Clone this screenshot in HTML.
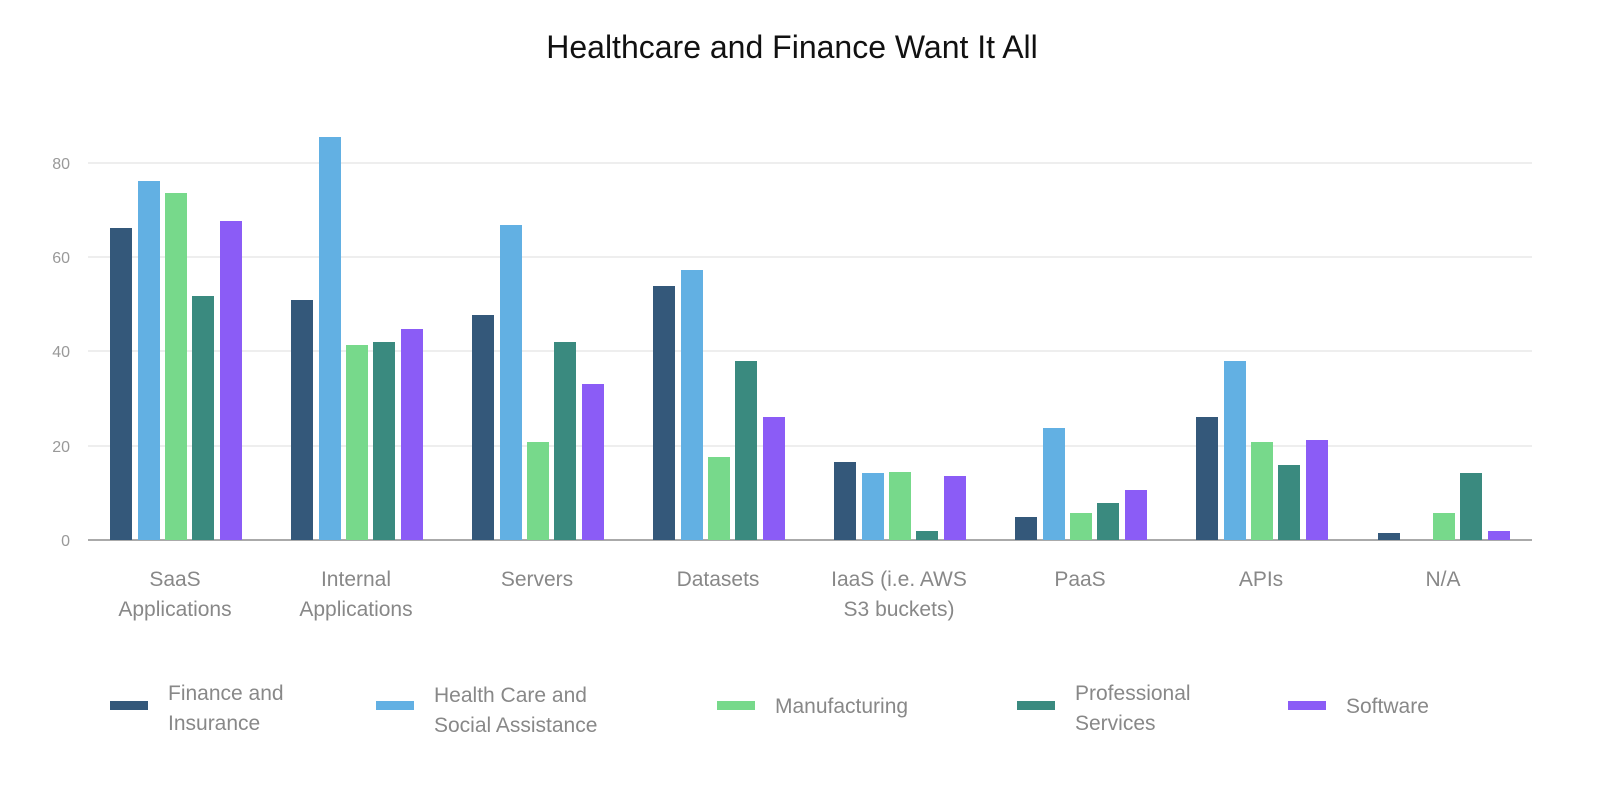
<!DOCTYPE html>
<html><head><meta charset="utf-8"><style>
body{margin:0;background:#fff;}
svg{display:block;font-family:"Liberation Sans",sans-serif;}
</style></head><body>
<svg width="1616" height="788" viewBox="0 0 1616 788">
<text x="792" y="58" font-size="32" text-anchor="middle" fill="#111">Healthcare and Finance Want It All</text>
<g stroke="#eee" stroke-width="2">
<line x1="88" x2="1532" y1="163" y2="163"/><line x1="88" x2="1532" y1="257" y2="257"/>
<line x1="88" x2="1532" y1="351" y2="351"/><line x1="88" x2="1532" y1="446" y2="446"/>
</g>
<g font-size="16" fill="#999" text-anchor="end">
<text x="70" y="169">80</text><text x="70" y="263">60</text><text x="70" y="357">40</text><text x="70" y="452">20</text><text x="70" y="546">0</text>
</g>
<g id="bars"></g>
<line x1="88" x2="1532" y1="540" y2="540" stroke="#aaa" stroke-width="2"/>
<g font-size="21" fill="#888" text-anchor="middle">
<text x="175" y="586">SaaS</text><text x="175" y="616">Applications</text>
<text x="356" y="586">Internal</text><text x="356" y="616">Applications</text>
<text x="537" y="586">Servers</text>
<text x="718" y="586">Datasets</text>
<text x="899" y="586">IaaS (i.e. AWS</text><text x="899" y="616">S3 buckets)</text>
<text x="1080" y="586">PaaS</text>
<text x="1261" y="586">APIs</text>
<text x="1443" y="586">N/A</text>
</g>
<g font-size="21" fill="#888">
<rect x="110" y="701" width="38" height="9" fill="#34587a"/><text x="168" y="700">Finance and</text><text x="168" y="730">Insurance</text>
<rect x="376" y="701" width="38" height="9" fill="#62b0e3"/><text x="434" y="702">Health Care and</text><text x="434" y="732">Social Assistance</text>
<rect x="717" y="701" width="38" height="9" fill="#77d98b"/><text x="775" y="713">Manufacturing</text>
<rect x="1017" y="701" width="38" height="9" fill="#3a8a7f"/><text x="1075" y="700">Professional</text><text x="1075" y="730">Services</text>
<rect x="1288" y="701" width="38" height="9" fill="#8b5cf6"/><text x="1346" y="713">Software</text>
</g>
<g>
<rect x="110" y="228" width="22" height="312" fill="#34587a"/><rect x="138" y="181" width="22" height="359" fill="#62b0e3"/><rect x="165" y="193" width="22" height="347" fill="#77d98b"/><rect x="192" y="296" width="22" height="244" fill="#3a8a7f"/><rect x="220" y="221" width="22" height="319" fill="#8b5cf6"/>
<rect x="291" y="300" width="22" height="240" fill="#34587a"/><rect x="319" y="137" width="22" height="403" fill="#62b0e3"/><rect x="346" y="345" width="22" height="195" fill="#77d98b"/><rect x="373" y="342" width="22" height="198" fill="#3a8a7f"/><rect x="401" y="329" width="22" height="211" fill="#8b5cf6"/>
<rect x="472" y="315" width="22" height="225" fill="#34587a"/><rect x="500" y="225" width="22" height="315" fill="#62b0e3"/><rect x="527" y="442" width="22" height="98" fill="#77d98b"/><rect x="554" y="342" width="22" height="198" fill="#3a8a7f"/><rect x="582" y="384" width="22" height="156" fill="#8b5cf6"/>
<rect x="653" y="286" width="22" height="254" fill="#34587a"/><rect x="681" y="270" width="22" height="270" fill="#62b0e3"/><rect x="708" y="457" width="22" height="83" fill="#77d98b"/><rect x="735" y="361" width="22" height="179" fill="#3a8a7f"/><rect x="763" y="417" width="22" height="123" fill="#8b5cf6"/>
<rect x="834" y="462" width="22" height="78" fill="#34587a"/><rect x="862" y="473" width="22" height="67" fill="#62b0e3"/><rect x="889" y="472" width="22" height="68" fill="#77d98b"/><rect x="916" y="531" width="22" height="9" fill="#3a8a7f"/><rect x="944" y="476" width="22" height="64" fill="#8b5cf6"/>
<rect x="1015" y="517" width="22" height="23" fill="#34587a"/><rect x="1043" y="428" width="22" height="112" fill="#62b0e3"/><rect x="1070" y="513" width="22" height="27" fill="#77d98b"/><rect x="1097" y="503" width="22" height="37" fill="#3a8a7f"/><rect x="1125" y="490" width="22" height="50" fill="#8b5cf6"/>
<rect x="1196" y="417" width="22" height="123" fill="#34587a"/><rect x="1224" y="361" width="22" height="179" fill="#62b0e3"/><rect x="1251" y="442" width="22" height="98" fill="#77d98b"/><rect x="1278" y="465" width="22" height="75" fill="#3a8a7f"/><rect x="1306" y="440" width="22" height="100" fill="#8b5cf6"/>
<rect x="1378" y="533" width="22" height="7" fill="#34587a"/><rect x="1433" y="513" width="22" height="27" fill="#77d98b"/><rect x="1460" y="473" width="22" height="67" fill="#3a8a7f"/><rect x="1488" y="531" width="22" height="9" fill="#8b5cf6"/>
</g>
</svg>
</body></html>
